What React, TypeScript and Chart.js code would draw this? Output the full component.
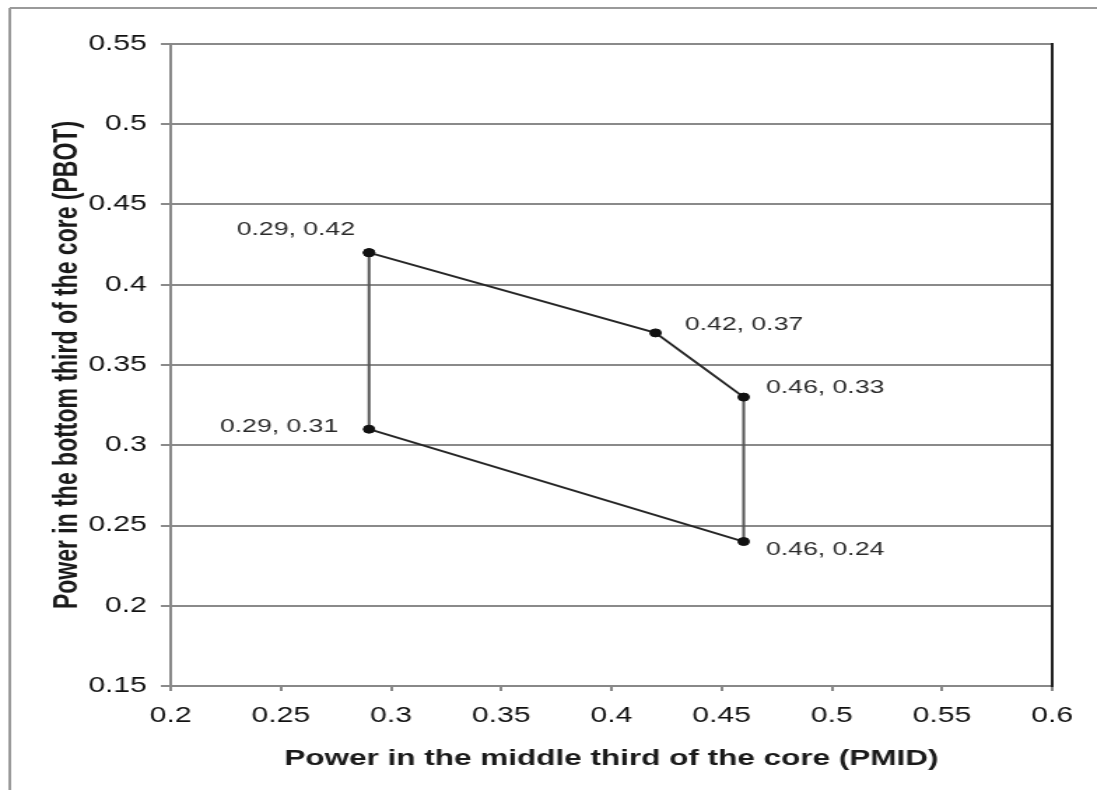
import { useEffect, useRef } from 'react';
import { Chart, registerables } from 'chart.js';

Chart.register(...registerables);

// ---- data ----
const pmid = [0.29, 0.42, 0.46, 0.46, 0.29, 0.29];
const pbot = [0.42, 0.37, 0.33, 0.24, 0.31, 0.42];
const pointLabels = ['0.29, 0.42', '0.42, 0.37', '0.46, 0.33', '0.46, 0.24', '0.29, 0.31', ''];

const xTicks = [0.2, 0.25, 0.3, 0.35, 0.4, 0.45, 0.5, 0.55, 0.6];
const xTickLabels = ['0.2', '0.25', '0.3', '0.35', '0.4', '0.45', '0.5', '0.55', '0.6'];
const yTicks = [0.15, 0.2, 0.25, 0.3, 0.35, 0.4, 0.45, 0.5, 0.55];
const yTickLabels = ['0.15', '0.2', '0.25', '0.3', '0.35', '0.4', '0.45', '0.5', '0.55'];

const xTitle = 'Power in the middle third of the core (PMID)';
const yTitle = 'Power in the bottom third of the core (PBOT)';

// ---- styles ----
const CANVAS_W = 784; // drawn width, displayed stretched to 1097px
const CANVAS_H = 790;
const FONT = '"Liberation Sans", Arial, sans-serif';
const labelPlacement = [
  { dx: -10, dy: -23, align: 'right' },
  { dx: 21, dy: -8, align: 'left' },
  { dx: 16, dy: -9, align: 'left' },
  { dx: 16, dy: 8, align: 'left' },
  { dx: -22, dy: -2, align: 'right' },
  { dx: 0, dy: 0, align: 'left' },
];

const framePlugin = {
  id: 'frame',
  beforeDraw(chart: any) {
    const ctx = chart.ctx;
    ctx.save();
    ctx.strokeStyle = '#9a9a9a';
    ctx.lineWidth = 2;
    ctx.beginPath();
    ctx.moveTo(7, 8);
    ctx.lineTo(CANVAS_W, 8);
    ctx.moveTo(7, 8);
    ctx.lineTo(7, CANVAS_H);
    ctx.stroke();
    ctx.restore();
  },
  beforeDatasetsDraw(chart: any) {
    const { ctx, chartArea } = chart;
    ctx.save();
    ctx.strokeStyle = '#222';
    ctx.lineWidth = 2;
    ctx.beginPath();
    ctx.moveTo(chartArea.right, chartArea.top - 1);
    ctx.lineTo(chartArea.right, chartArea.bottom + 1);
    ctx.stroke();
    ctx.restore();
  },
};

const labelPlugin = {
  id: 'pointLabels',
  afterDatasetsDraw(chart: any) {
    const ctx = chart.ctx;
    const meta = chart.getDatasetMeta(0);
    ctx.save();
    ctx.font = `19px ${FONT}`;
    ctx.fillStyle = '#2a2a2a';
    ctx.textBaseline = 'middle';
    meta.data.forEach((pt: any, i: number) => {
      const text = pointLabels[i];
      if (!text) return;
      const p = labelPlacement[i];
      ctx.textAlign = p.align;
      ctx.fillText(text, pt.x + p.dx, pt.y + p.dy);
    });
    ctx.restore();
  },
};

export default function App() {
  const ref = useRef<HTMLCanvasElement | null>(null);

  useEffect(() => {
    if (!ref.current) return;
    const chart = new Chart(ref.current, {
      type: 'scatter',
      data: {
        datasets: [
          {
            data: pmid.map((x, i) => ({ x, y: pbot[i] })),
            showLine: true,
            borderColor: '#262626',
            borderWidth: 2,
            segment: {
              borderColor: (c: any) => (c.p0.parsed.x === c.p1.parsed.x ? '#555' : '#262626'),
            },
            pointRadius: 4,
            pointBackgroundColor: '#111',
            pointBorderColor: '#111',
            pointBorderWidth: 1,
          },
        ],
      },
      options: {
        responsive: false,
        devicePixelRatio: 1,
        animation: false,
        layout: { padding: { left: 0, right: 32, top: 44, bottom: 0 } },
        plugins: { legend: { display: false }, tooltip: { enabled: false } },
        scales: {
          x: {
            type: 'linear',
            min: 0.2,
            max: 0.6,
            afterBuildTicks: (s: any) => {
              s.ticks = xTicks.map((v) => ({ value: v }));
            },
            afterFit: (s: any) => {
              s.height = 104;
            },
            ticks: {
              autoSkip: false,
              maxRotation: 0,
              padding: 12,
              color: '#111',
              font: { family: FONT, size: 21.5 },
              callback: (_v: any, i: number) => xTickLabels[i],
            },
            grid: { drawOnChartArea: false, drawTicks: true, tickLength: 5, color: '#888', lineWidth: 2 },
            border: { display: true, color: '#888', width: 2 },
            title: {
              display: true,
              text: xTitle,
              color: '#1a1a1a',
              font: { family: FONT, size: 22.5, weight: 'bold' },
              padding: { top: 0, bottom: 18 },
            },
          },
          y: {
            type: 'linear',
            min: 0.15,
            max: 0.55,
            afterBuildTicks: (s: any) => {
              s.ticks = yTicks.map((v) => ({ value: v }));
            },
            afterFit: (s: any) => {
              s.width = 122;
            },
            ticks: {
              autoSkip: false,
              padding: 10,
              color: '#111',
              font: { family: FONT, size: 21.5 },
              callback: (_v: any, i: number) => yTickLabels[i],
            },
            grid: { drawTicks: true, tickLength: 7, color: '#8a8a8a', lineWidth: 2 },
            border: { display: true, color: '#888', width: 2 },
            title: {
              display: true,
              text: yTitle,
              color: '#1a1a1a',
              font: { family: FONT, size: 23, weight: 'bold' },
              padding: { top: 35, bottom: 0 },
            },
          },
        },
      },
      plugins: [framePlugin, labelPlugin],
    } as any);
    return () => chart.destroy();
  }, []);

  return (
    <canvas
      ref={ref}
      width={CANVAS_W}
      height={CANVAS_H}
      style={{ position: 'fixed', left: 0, top: 0, width: '1097px', height: '790px', background: '#fff' }}
    />
  );
}
